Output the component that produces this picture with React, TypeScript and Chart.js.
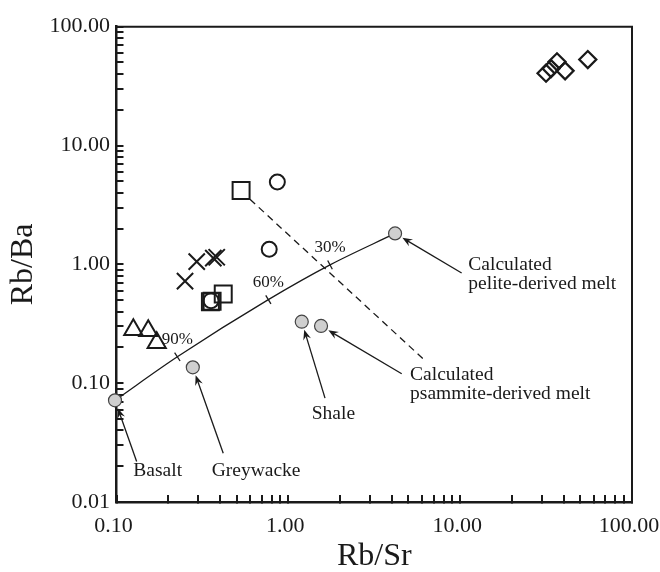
import React, { useEffect, useRef } from 'react';
import { Chart, registerables } from 'chart.js';

Chart.register(...registerables);

type Pt = { x: number; y: number };

// ---- sample groups (Rb/Sr, Rb/Ba) ----
const diamondRbSr = [31.6, 33.8, 36.6, 40.8, 55.3];
const diamondRbBa = [40.6, 44.4, 50.7, 42.5, 52.9];

const circleRbSr = [0.863, 0.774, 0.355];
const circleRbBa = [4.93, 1.34, 0.495];

const squareRbSr = [0.531, 0.418, 0.36, 0.352];
const squareRbBa = [4.19, 0.562, 0.49, 0.485];

const crossRbSr = [0.2505, 0.293, 0.366, 0.383];
const crossRbBa = [0.722, 1.054, 1.127, 1.148];

const triangleRbSr = [0.1253, 0.153, 0.1714];
const triangleRbBa = [0.281, 0.276, 0.219];

// ---- source compositions ----
const sourceNames = ['Basalt', 'Greywacke', 'Shale', 'Calculated psammite-derived melt', 'Calculated pelite-derived melt'];
const sourceRbSr = [0.098, 0.278, 1.197, 1.55, 4.18];
const sourceRbBa = [0.0717, 0.136, 0.329, 0.303, 1.82];

// ---- basalt / pelite-melt mixing curve, marked at basalt fraction ----
const mixLabels = ['90%', '60%', '30%'];
const mixRbSr = [0.226, 0.765, 1.748];
const mixRbBa = [0.1667, 0.505, 0.99];

// ---- dashed tie line ----
const tieRbSr = [0.598, 6.11];
const tieRbBa = [3.53, 0.1595];

// ---- axes ----
const xMajor = [0.1, 1, 10, 100];
const xTickLabels = ['0.10', '1.00', '10.00', '100.00'];
const yMajor = [0.01, 0.1, 1, 10, 100];
const yTickLabels = ['0.01', '0.10', '1.00', '10.00', '100.00'];
const minorSteps = [2, 3, 4, 5, 6, 7, 8, 9];

// ---- callouts: text, text anchor (first baseline), arrow tail, source index ----
const calloutText = [['Basalt'], ['Greywacke'], ['Shale'], ['Calculated', 'psammite-derived melt'], ['Calculated', 'pelite-derived melt']];
const calloutRbSr = [0.1253, 0.358, 1.368, 5.11, 11.16];
const calloutRbBa = [0.01653, 0.01653, 0.0502, 0.1072, 0.901];
const arrowTailRbSr = [0.131, 0.418, 1.635, 4.57, 10.2];
const arrowTailRbBa = [0.0219, 0.0257, 0.0749, 0.12, 0.845];
const calloutSource = [0, 1, 2, 3, 4];

const FONT = '"Liberation Serif", "Times New Roman", Times, serif';
const INK = '#1a1a1a';

const pts = (xs: number[], ys: number[]): Pt[] => xs.map((x, i) => ({ x, y: ys[i] }));

const logTicks = (majors: number[]) => {
  const out: { value: number }[] = [];
  majors.forEach((m, i) => {
    out.push({ value: m });
    if (i < majors.length - 1) minorSteps.forEach((s) => out.push({ value: +(m * s).toPrecision(6) }));
  });
  return out;
};

const labelFor = (majors: number[], labels: string[]) => (v: number | string) => {
  const n = Number(v);
  const i = majors.findIndex((m) => Math.abs(m - n) / m < 1e-6);
  return i >= 0 ? labels[i] : '';
};

const overlay = {
  id: 'overlay',
  afterDatasetsDraw(chart: any) {
    const { ctx, chartArea: a, scales } = chart;
    const sx = (v: number) => scales.x.getPixelForValue(v);
    const sy = (v: number) => scales.y.getPixelForValue(v);
    ctx.save();

    // top and right frame
    ctx.strokeStyle = INK;
    ctx.lineWidth = 2;
    ctx.beginPath();
    ctx.moveTo(a.left, a.top);
    ctx.lineTo(a.right, a.top);
    ctx.lineTo(a.right, a.bottom);
    ctx.stroke();

    // mixing-curve marks and percentage labels
    const cx = [sourceRbSr[0], ...mixRbSr, sourceRbSr[4]].map(sx);
    const cy = [sourceRbBa[0], ...mixRbBa, sourceRbBa[4]].map(sy);
    ctx.lineWidth = 1.3;
    ctx.fillStyle = INK;
    ctx.font = `17px ${FONT}`;
    ctx.textAlign = 'center';
    ctx.textBaseline = 'middle';
    mixLabels.forEach((lab, i) => {
      const k = i + 1;
      const dx = cx[k + 1] - cx[k - 1];
      const dy = cy[k + 1] - cy[k - 1];
      const len = Math.hypot(dx, dy);
      const nx = -dy / len;
      const ny = dx / len;
      ctx.beginPath();
      ctx.moveTo(cx[k] - nx * 5, cy[k] - ny * 5);
      ctx.lineTo(cx[k] + nx * 5, cy[k] + ny * 5);
      ctx.stroke();
      ctx.fillText(lab, cx[k], cy[k] - 17);
    });

    // callout arrows
    ctx.lineWidth = 1.3;
    calloutSource.forEach((si, i) => {
      const tx = sx(arrowTailRbSr[i]);
      const ty = sy(arrowTailRbBa[i]);
      const px = sx(sourceRbSr[si]);
      const py = sy(sourceRbBa[si]);
      const len = Math.hypot(tx - px, ty - py);
      const ux = (tx - px) / len;
      const uy = (ty - py) / len;
      const hx = px + ux * 8.5;
      const hy = py + uy * 8.5;
      ctx.beginPath();
      ctx.moveTo(tx, ty);
      ctx.lineTo(hx + ux * 5, hy + uy * 5);
      ctx.stroke();
      const nx = -uy;
      const ny = ux;
      ctx.beginPath();
      ctx.moveTo(hx, hy);
      ctx.lineTo(hx + ux * 10 + nx * 4, hy + uy * 10 + ny * 4);
      ctx.lineTo(hx + ux * 6.5, hy + uy * 6.5);
      ctx.lineTo(hx + ux * 10 - nx * 4, hy + uy * 10 - ny * 4);
      ctx.closePath();
      ctx.fill();
    });

    // callout text
    ctx.font = `19.5px ${FONT}`;
    ctx.textAlign = 'left';
    ctx.textBaseline = 'alphabetic';
    calloutText.forEach((lines, i) => {
      const x0 = sx(calloutRbSr[i]);
      const y0 = sy(calloutRbBa[i]);
      lines.forEach((t, j) => ctx.fillText(t, x0, y0 + j * 19.5));
    });

    ctx.restore();
  },
};

export default function App() {
  const ref = useRef<HTMLCanvasElement>(null);

  useEffect(() => {
    const canvas = ref.current;
    if (!canvas) return;

    const open = (data: Pt[], pointStyle: string, radius: number, width = 2) => ({
      data,
      pointStyle,
      pointRadius: radius,
      pointBorderWidth: width,
      pointBorderColor: INK,
      pointBackgroundColor: 'rgba(0,0,0,0)',
      showLine: false,
    });

    const chart = new Chart(canvas, {
      type: 'scatter',
      data: {
        datasets: [
          {
            label: 'sources',
            data: pts(sourceRbSr, sourceRbBa),
            pointStyle: 'circle',
            pointRadius: 6.5,
            pointBorderWidth: 1.2,
            pointBorderColor: '#444',
            pointBackgroundColor: '#cfcfcf',
            showLine: false,
            clip: false,
          } as any,
          { label: 'circles', ...open(pts(circleRbSr, circleRbBa), 'circle', 7.5) },
          { label: 'squares', ...open(pts(squareRbSr, squareRbBa), 'rect', 12) },
          { label: 'crosses', ...open(pts(crossRbSr, crossRbBa), 'crossRot', 11.5) },
          { label: 'triangles', ...open(pts(triangleRbSr, triangleRbBa), 'triangle', 10.5) },
          { label: 'diamonds', ...open(pts(diamondRbSr, diamondRbBa), 'rectRot', 8.5, 2.3) },
          {
            label: 'mixing',
            data: pts([sourceRbSr[0], ...mixRbSr, sourceRbSr[4]], [sourceRbBa[0], ...mixRbBa, sourceRbBa[4]]),
            showLine: true,
            pointRadius: 0,
            borderColor: INK,
            borderWidth: 1.3,
            cubicInterpolationMode: 'monotone',
            fill: false,
          } as any,
          {
            label: 'tie',
            data: pts(tieRbSr, tieRbBa),
            showLine: true,
            pointRadius: 0,
            borderColor: INK,
            borderWidth: 1.3,
            borderDash: [7, 5],
            fill: false,
          } as any,
        ],
      },
      options: {
        responsive: false,
        animation: false,
        events: [],
        layout: { padding: { top: 14, right: 68, bottom: 0, left: 0 } },
        plugins: { legend: { display: false }, tooltip: { enabled: false } },
        scales: {
          x: {
            type: 'logarithmic',
            position: 'bottom',
            min: 0.1,
            max: 100,
            afterBuildTicks: (s: any) => {
              s.ticks = logTicks(xMajor);
            },
            afterFit: (s: any) => {
              s.height = 70;
            },
            border: { display: true, color: INK, width: 2.5 },
            grid: { display: true, drawOnChartArea: false, drawTicks: true, tickLength: -7, color: INK, lineWidth: 2 },
            ticks: {
              autoSkip: false,
              maxRotation: 0,
              padding: 18,
              labelOffset: -3,
              color: INK,
              font: { family: FONT, size: 22 },
              callback: labelFor(xMajor, xTickLabels),
            },
            title: {
              display: true,
              text: 'Rb/Sr',
              color: INK,
              font: { family: FONT, size: 32, lineHeight: 1 },
              padding: { top: 0, bottom: -1 },
            },
          },
          y: {
            type: 'logarithmic',
            position: 'left',
            min: 0.01,
            max: 100,
            afterBuildTicks: (s: any) => {
              s.ticks = logTicks(yMajor);
            },
            afterFit: (s: any) => {
              s.width = 116.5;
            },
            border: { display: true, color: INK, width: 2.5 },
            grid: { display: true, drawOnChartArea: false, drawTicks: true, tickLength: -7, color: INK, lineWidth: 2 },
            ticks: {
              autoSkip: false,
              padding: 13.5,
              color: INK,
              font: { family: FONT, size: 22 },
              callback: labelFor(yMajor, yTickLabels),
            },
            title: {
              display: true,
              text: 'Rb/Ba',
              color: INK,
              font: { family: FONT, size: 32, lineHeight: 1 },
              padding: { top: 7.5, bottom: 0 },
            },
          },
        },
      } as any,
      plugins: [overlay],
    });

    return () => chart.destroy();
  }, []);

  return (
    <div style={{ position: 'absolute', left: 0, top: 0, width: 660, height: 572, overflow: 'hidden', background: '#fff' }}>
      <canvas ref={ref} width={700} height={572} style={{ display: 'block', width: 700, height: 572 }} />
    </div>
  );
}
